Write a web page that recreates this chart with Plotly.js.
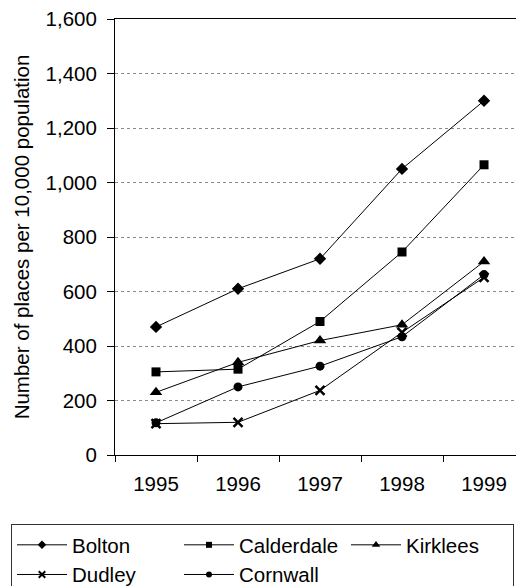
<!DOCTYPE html>
<html>
<head>
<meta charset="utf-8">
<script src="https://cdn.plot.ly/plotly-3.0.1.min.js"></script>
<style>html,body{margin:0;padding:0;background:#fff;}#chart{width:516px;height:586px;}</style>
</head>
<body>
<div id="chart"></div>
<script>
const years = ['1995', '1996', '1997', '1998', '1999'];
const bolton = [470, 610, 720, 1050, 1300];
const calderdale = [305, 315, 490, 745, 1065];
const kirklees = [230, 340, 420, 478, 710];
const dudley = [115, 120, 237, 450, 652];
const cornwall = [118, 250, 326, 434, 662];
const yTicks = [0, 200, 400, 600, 800, 1000, 1200, 1400, 1600];
const yTickText = ['0', '200', '400', '600', '800', '1,000', '1,200', '1,400', '1,600'];

const FONT = 'Liberation Sans, Arial, sans-serif';
const FS = 20.5;
const series = [
  {name: 'Bolton', y: bolton, symbol: 'diamond', size: 9.5, lsize: 6.5},
  {name: 'Calderdale', y: calderdale, symbol: 'square', size: 9, lsize: 6},
  {name: 'Kirklees', y: kirklees, symbol: 'triangle-up', size: 11, lsize: 7.5},
  {name: 'Dudley', y: dudley, symbol: 'x-thin-open', size: 9, lsize: 6.5, lw: 2.5},
  {name: 'Cornwall', y: cornwall, symbol: 'circle', size: 9, lsize: 6}
];
const data = [];
series.forEach(s => {
  data.push({
    type: 'scatter', mode: 'lines+markers', name: s.name, x: years, y: s.y, showlegend: false,
    line: {color: '#000', width: 1},
    marker: {symbol: s.symbol, size: s.size, color: '#000', line: {color: '#000', width: s.lw || 0}}
  });
});
// legend entries (smaller legend markers, like the original)
series.forEach(s => {
  data.push({
    type: 'scatter', mode: 'lines+markers', name: s.name, x: [null], y: [null], showlegend: true,
    line: {color: '#000', width: 1},
    marker: {symbol: s.symbol, size: s.lsize, color: '#000', line: {color: '#000', width: s.lw ? 2 : 0}}
  });
});
const plotL = 115, plotW = 401, plotH = 436, plotBottom = 455;
const layout = {
  width: 516, height: 586,
  margin: {l: plotL, r: 0, t: 19, b: 131, pad: 0, autoexpand: false},
  paper_bgcolor: '#fff', plot_bgcolor: '#fff',
  font: {family: FONT, size: FS, color: '#000'},
  showlegend: true,
  xaxis: {
    type: 'category', range: [-0.5, 4.39],
    showline: true, linecolor: '#000', linewidth: 1, mirror: true,
    ticks: 'outside', ticklen: 6, tickcolor: '#000', tickson: 'boundaries',
    showgrid: false, zeroline: false, ticklabelstandoff: 10,
    tickfont: {family: FONT, size: FS, color: '#000'}
  },
  yaxis: {
    range: [0, 1600], tickvals: yTicks, ticktext: yTickText,
    showline: true, linecolor: '#000', linewidth: 1,
    ticks: 'outside', ticklen: 7, tickcolor: '#000',
    showgrid: true, gridcolor: '#8a8a8a', griddash: 'dot', gridwidth: 1,
    zeroline: false, ticklabelstandoff: 6,
    tickfont: {family: FONT, size: FS, color: '#000'},
    title: {text: 'Number of places per 10,000 population', font: {family: FONT, size: FS, color: '#000'}, standoff: 10}
  },
  legend: {
    orientation: 'h', xref: 'paper', yref: 'paper',
    x: (11 - plotL) / plotW, y: -(524 - plotBottom) / plotH, xanchor: 'left', yanchor: 'top',
    bordercolor: '#333', borderwidth: 1, bgcolor: '#fff',
    font: {family: FONT, size: FS, color: '#000'},
    entrywidth: 102, entrywidthmode: 'pixels', itemwidth: 50,
    traceorder: 'normal'
  }
};
Plotly.newPlot('chart', data, layout, {displayModeBar: false, staticPlot: true});
</script>
</body>
</html>
